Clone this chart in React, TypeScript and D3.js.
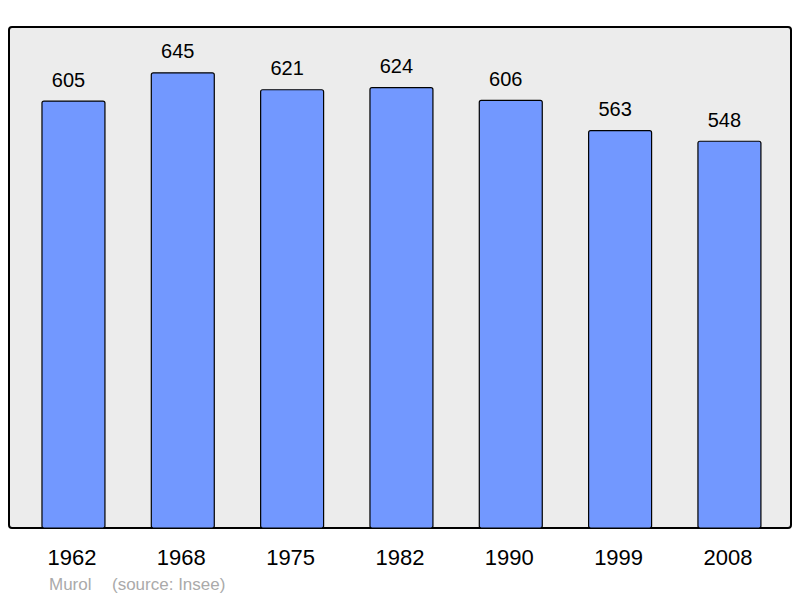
import * as d3 from 'd3'
import { useRef, useEffect } from 'react'

const years = ['1962', '1968', '1975', '1982', '1990', '1999', '2008']
const population = [605, 645, 621, 624, 606, 563, 548]
const town = 'Murol'
const source = '(source: Insee)'

export default function App() {
  const svgRef = useRef<SVGSVGElement>(null)
  useEffect(() => {
    const width = 800
    const height = 598
    const svg = d3.select(svgRef.current)
    svg.selectAll('*').remove()
    svg.attr('width', width).attr('height', height)
       .style('position', 'absolute').style('left', 0).style('top', 0)
       .style('font-family', '"Liberation Sans", Arial, sans-serif')

    const baseY = 528
    const x = d3.scaleBand().domain(years).range([18.8, 784.1])
                .paddingInner(0.424).paddingOuter(0.212)
    const y = d3.scaleLinear().domain([0, 700]).range([baseY, baseY - 494])

    svg.append('rect')
        .attr('x', 9).attr('y', 27).attr('width', 782).attr('height', baseY - 27)
        .attr('rx', 3)
        .attr('fill', '#ececec').attr('stroke', '#000').attr('stroke-width', 2)

    const data = years.map((yr, i) => ({ yr, v: population[i] }))

    svg.append('g').selectAll('rect').data(data).join('rect')
        .attr('x', d => x(d.yr)!)
        .attr('y', d => y(d.v))
        .attr('width', x.bandwidth())
        .attr('height', d => baseY - y(d.v))
        .attr('rx', 2)
        .attr('fill', '#7298ff').attr('stroke', '#000').attr('stroke-width', 1.2)

    // value labels sit a little left of the bar centre in the original
    svg.append('g').selectAll('text').data(data).join('text')
        .attr('x', d => x(d.yr)! + x.bandwidth() / 2 - 5)
        .attr('y', d => y(d.v) - 14.5)
        .attr('text-anchor', 'middle')
        .attr('font-size', 20)
        .text(d => d.v)

    svg.append('g').selectAll('text').data(years).join('text')
        .attr('x', d => x(d)! + x.bandwidth() / 2 - 1.5)
        .attr('y', 565)
        .attr('text-anchor', 'middle')
        .attr('font-size', 22)
        .text(d => d)

    svg.append('text').attr('x', 49).attr('y', 590)
        .attr('font-size', 17).attr('fill', '#aaa').text(town)
    svg.append('text').attr('x', 112).attr('y', 590)
        .attr('font-size', 17).attr('fill', '#aaa').text(source)
  }, [])
  return <svg ref={svgRef}></svg>
}
